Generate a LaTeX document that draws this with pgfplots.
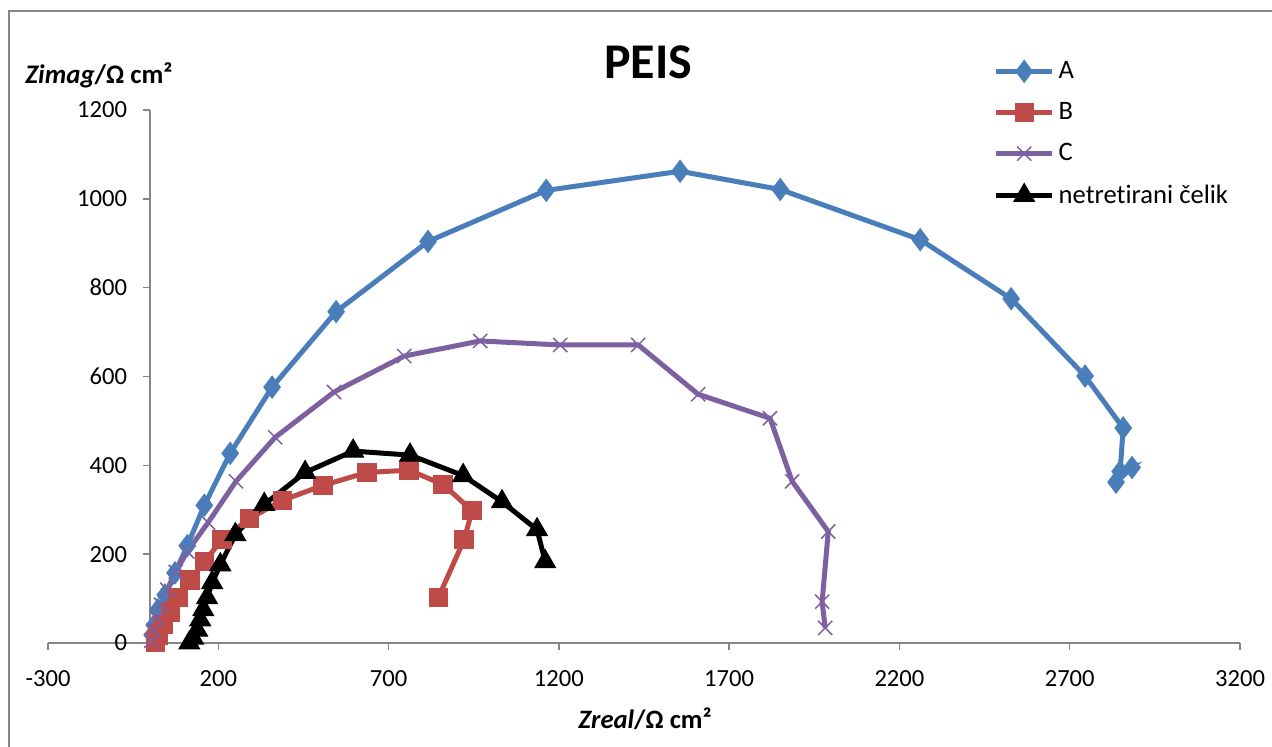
\documentclass[border=0pt]{standalone}
\usepackage{fontspec}
\setmainfont{Carlito}[Ligatures={NoCommon}]
\usepackage{pgfplots}
\pgfplotsset{compat=1.18}
\definecolor{sA}{HTML}{4A7EBB}
\definecolor{sB}{HTML}{BE4B48}
\definecolor{sC}{HTML}{7D60A0}
\definecolor{axgray}{HTML}{868686}
\begin{document}
\begin{tikzpicture}[x=1pt,y=1pt]
\useasboundingbox (0,0) rectangle (636,373.5);
\draw[axgray, line width=0.6pt] (4.5,-5) -- (4.5,368) -- (650,368);
\begin{axis}[
  at={(24pt,52pt)}, anchor=south west,
  width=596pt, height=266.5pt, scale only axis,
  xmin=-300, xmax=3200, ymin=0, ymax=1200,
  xtick={-300,200,...,3200}, ytick={0,200,...,1200},
  axis lines*=middle,
  hide obscured y ticks=false,
  hide obscured x ticks=false,
  tick align=outside, major tick length=3.5pt,
  axis line style={axgray, line width=0.75pt},
  tick style={axgray, line width=0.75pt},
  ticklabel style={font=\fontsize{12.3}{14}\selectfont, text=black},
  xticklabel style={yshift=-6.5pt},
  yticklabel style={xshift=-4.5pt},
  /pgf/number format/assume math mode=true,
  /pgf/number format/1000 sep={},
  clip=false,
  legend style={draw=none, fill=none, at={(axis description cs:0.788,1.107)}, anchor=north west,
    font=\fontsize{13.3}{15}\selectfont, row sep=6.5pt},
  legend cell align=left,
  legend image code/.code={\draw[mark repeat=2,mark phase=2] plot coordinates {(0pt,0pt) (14pt,0pt) (28pt,0pt)};},
]
\addplot[sA, line width=2.5pt, mark=diamond*, mark size=5.5pt, mark options={line width=0.5pt}] coordinates {
(6,18)(12,40)(23,75)(44,108)(73,158)(109,219)(159,310)(235,427)(358,576)(546,746)(816,904)(1163,1019)(1556,1062)(1850,1021)(2261,908)(2528,775)(2745,601)(2857,484)(2848,386)(2883,395)(2836,362)};
\addlegendentry{A}
\addplot[sB, line width=2.5pt, mark=square*, mark size=4.6pt, mark options={line width=0.5pt}] coordinates {
(15,2)(23,18)(38,41)(59,70)(82,102)(117,142)(159,183)(211,233)(291,280)(388,321)(508,355)(637,384)(760,389)(860,357)(945,298)(922,233)(846,102)};
\addlegendentry{B}
\addplot[sC, line width=2.5pt, mark=x, mark size=5pt, mark options={line width=0.75pt}] coordinates {
(3,5)(10,28)(20,55)(32,86)(50,120)(75,160)(109,206)(170,271)(252,364)(367,463)(540,565)(746,646)(969,680)(1204,671)(1433,671)(1609,560)(1820,506)(1885,364)(1991,251)(1973,93)(1982,34)};
\addlegendentry{C}
\addplot[black, line width=2.5pt, mark=triangle*, mark size=6pt, mark options={line width=0.5pt}] coordinates {
(115,0)(126,11)(138,29)(147,52)(156,75)(167,102)(182,136)(206,176)(250,244)(335,312)(455,384)(596,432)(763,423)(919,377)(1033,318)(1136,255)(1160,183)};
\addlegendentry{netret\kern0pt irani čelik}
\end{axis}
\node[font=\fontsize{25}{30}\selectfont\bfseries] at (324,342.5) {PEIS};
\node[anchor=west, inner sep=0pt, font=\fontsize{13.4}{15}\selectfont\bfseries] at (12.5,336) {\textit{Zimag}/Ω cm²};
\node[font=\fontsize{13.3}{15}\selectfont\bfseries] at (322.5,14) {\textit{Zreal}/Ω cm²};
\end{tikzpicture}
\end{document}
